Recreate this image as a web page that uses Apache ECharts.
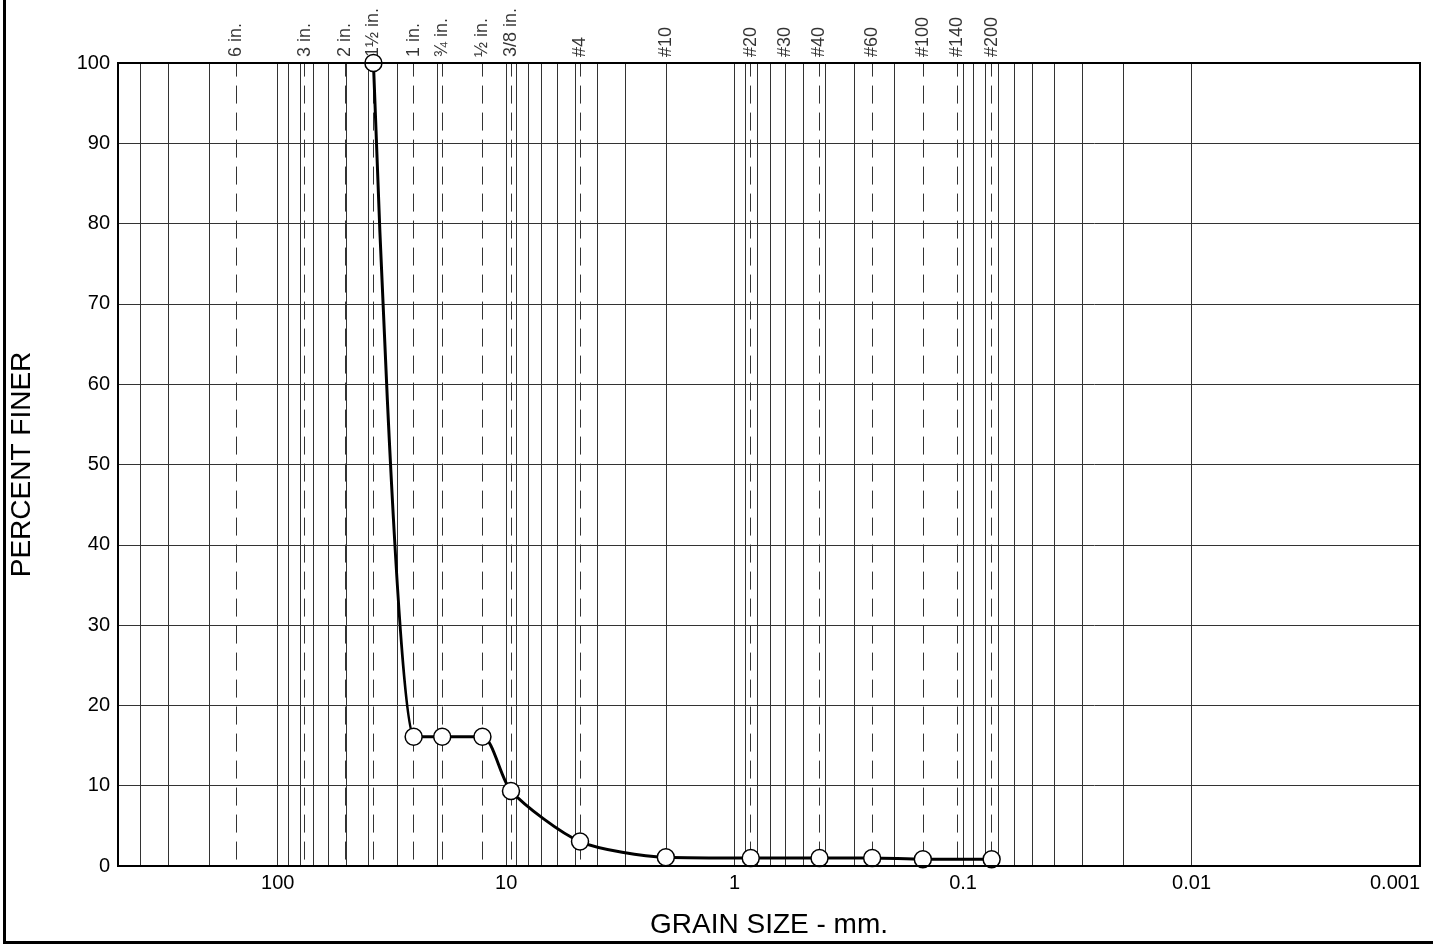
<!DOCTYPE html>
<html>
<head>
<meta charset="utf-8">
<script src="https://cdn.jsdelivr.net/npm/echarts@6/dist/echarts.min.js"></script>
<style>
html,body{margin:0;padding:0;background:#fff;}
#chart{width:1433px;height:944px;}
</style>
</head>
<body>
<div id="chart"></div>
<script>
// Measured grain-size data (mm, percent finer)
var grainSizes = [38.1, 25.4, 19.05, 12.7, 9.525, 4.75, 2.0, 0.85, 0.425, 0.25, 0.15, 0.075];
var percentFiner = [100, 16.1, 16.1, 16.1, 9.35, 3.05, 1.1, 1.0, 1.0, 1.0, 0.85, 0.85];

// Sieve designations shown along the top
var sieveLabels = ['6 in.', '3 in.', '2 in.', '1\u00BD in.', '1 in.', '\u00BE in.', '\u00BD in.', '3/8 in.',
                   '#4', '#10', '#20', '#30', '#40', '#60', '#100', '#140', '#200'];
var sieveSizes = [152.4, 76.2, 50.8, 38.1, 25.4, 19.05, 12.7, 9.525,
                  4.75, 2.0, 0.85, 0.6, 0.425, 0.25, 0.15, 0.106, 0.075];

// Axis tick labels
var xTickValues = [100, 10, 1, 0.1, 0.01, 0.001];
var xTickLabels = ['100', '10', '1', '0.1', '0.01', '0.001'];
var yTickLabels = ['0', '10', '20', '30', '40', '50', '60', '70', '80', '90', '100'];

// Log-paper vertical grid (1..9 x 10^k), axis structure
var gridSizes = [];
for (var e = -3; e <= 2; e++) {
  for (var m = 1; m <= 9; m++) {
    var v = parseFloat((m * Math.pow(10, e)).toPrecision(6));
    if (v > 0.001 && v < 500) gridSizes.push(v);
  }
}

var FONT = '"Liberation Sans", Arial, Helvetica, sans-serif';

var markData = [];
gridSizes.forEach(function (v) {
  markData.push({ xAxis: v, lineStyle: { color: '#333', width: 1, type: 'solid' } });
});
sieveSizes.forEach(function (v) {
  markData.push([
    { coord: [v, 0.8], lineStyle: { color: '#333', width: 1, type: [18, 9] } },
    { coord: [v, 100] }
  ]);
});

var chart = echarts.init(document.getElementById('chart'));
chart.setOption({
  animation: false,
  backgroundColor: '#fff',
  textStyle: { fontFamily: FONT },
  grid: { left: 118, right: 13, top: 63, bottom: 77, show: true, borderColor: '#000', borderWidth: 2, backgroundColor: 'transparent', z: 10 },
  xAxis: {
    type: 'log', logBase: 10, inverse: true, min: 0.001, max: 500,
    name: 'GRAIN SIZE - mm.', nameLocation: 'middle', nameGap: 45,
    nameTextStyle: { fontSize: 28, color: '#000', fontFamily: FONT },
    axisLine: { show: true, lineStyle: { color: '#000', width: 2 } },
    axisTick: { show: false },
    splitLine: { show: false },
    minorSplitLine: { show: false },
    axisLabel: {
      color: '#000', fontSize: 20, fontFamily: FONT, margin: 7,
      showMaxLabel: false,
      alignMinLabel: 'right',
      formatter: function (val) {
        for (var i = 0; i < xTickValues.length; i++) {
          if (Math.abs(Math.log10(val) - Math.log10(xTickValues[i])) < 1e-6) return xTickLabels[i];
        }
        return '';
      }
    }
  },
  yAxis: {
    type: 'value', min: 0, max: 100, interval: 10,
    name: 'PERCENT FINER', nameLocation: 'middle', nameGap: 82, nameRotate: 90,
    nameTextStyle: { fontSize: 28, color: '#000', fontFamily: FONT },
    axisLine: { show: true, lineStyle: { color: '#000', width: 2 } },
    axisTick: { show: false },
    splitLine: { show: true, lineStyle: { color: '#333', width: 1 } },
    axisLabel: {
      color: '#000', fontSize: 20, fontFamily: FONT, margin: 8,
      formatter: function (val) { return yTickLabels[Math.round(val / 10)]; }
    }
  },
  graphic: [{
    type: 'rect', silent: true, z: 100,
    shape: { x: 4.5, y: -10, width: 1500, height: 952.5 },
    style: { fill: 'none', stroke: '#000', lineWidth: 3 }
  }],
  series: [
    {
      name: 'sieves', type: 'scatter', symbolSize: 0, silent: true, z: 1,
      data: sieveSizes.map(function (s, i) { return { value: [s, 100], name: sieveLabels[i] }; }),
      label: {
        show: true, position: 'top', distance: 6, rotate: 90,
        align: 'left', verticalAlign: 'middle',
        formatter: '{b}', color: '#000', fontSize: 18, fontFamily: FONT
      },
      markLine: {
        silent: true, symbol: ['none', 'none'], animation: false,
        label: { show: false },
        data: markData
      }
    },
    {
      name: 'gradation', type: 'line', z: 5,
      smooth: 0.25,
      data: grainSizes.map(function (s, i) { return [s, percentFiner[i]]; }),
      symbol: 'circle', symbolSize: 17,
      lineStyle: { color: '#000', width: 3 },
      itemStyle: { color: '#fff', borderColor: '#000', borderWidth: 1.5 }
    }
  ]
});
</script>
</body>
</html>
